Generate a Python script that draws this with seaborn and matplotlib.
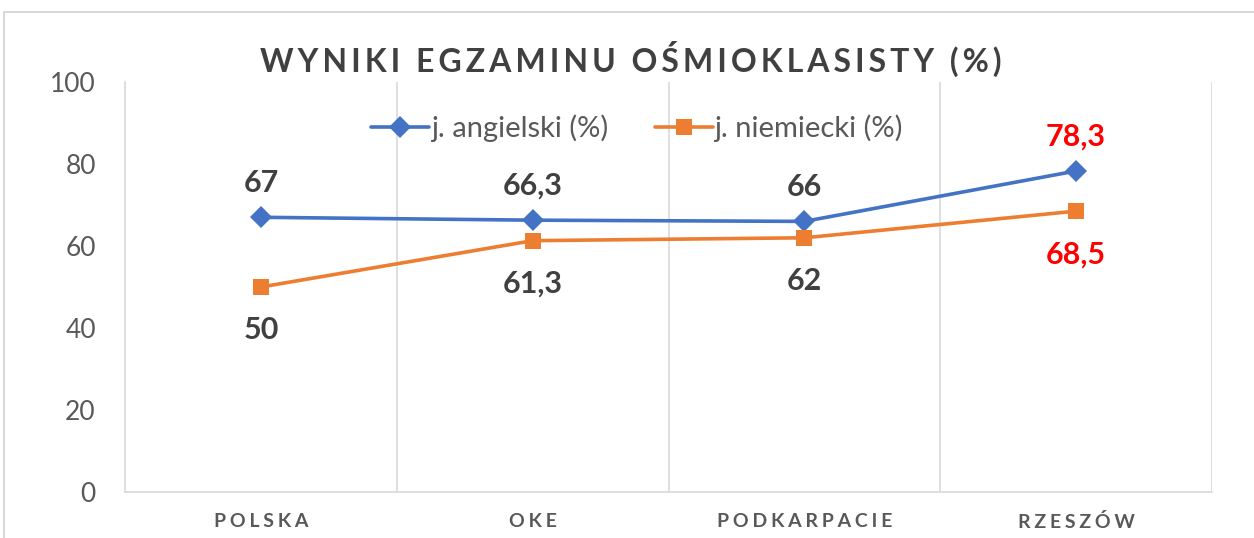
import matplotlib
matplotlib.use("Agg")
import matplotlib.pyplot as plt
from matplotlib.patches import Rectangle
import seaborn as sns
import pandas as pd

# dane z wykresu
categories = ["POLSKA", "OKE", "PODKARPACIE", "RZESZÓW"]
angielski = [67, 66.3, 66, 78.3]
niemiecki = [50, 61.3, 62, 68.5]
series_names = ["j. angielski (%)", "j. niemiecki (%)"]
y_ticks = [0, 20, 40, 60, 80, 100]

df = pd.DataFrame({
    "kategoria": categories * 2,
    "wynik": angielski + niemiecki,
    "seria": [series_names[0]] * 4 + [series_names[1]] * 4,
})

sns.set_style("white")
plt.rcParams["font.family"] = ["Lato", "DejaVu Sans"]

BLUE = "#4472C4"
ORANGE = "#ED7D31"
GRAY = "#595959"
DARK = "#404040"


def spaced(s, sep="\u2009"):
    return sep.join(list(s))


fig = plt.figure(figsize=(12.54, 5.38), dpi=100)
ax = fig.add_axes([0.0997, 0.0855, 0.8668, 0.7621])

sns.lineplot(data=df, x="kategoria", y="wynik", hue="seria", style="seria",
             palette={series_names[0]: BLUE, series_names[1]: ORANGE},
             markers={series_names[0]: "D", series_names[1]: "s"},
             dashes=False, linewidth=2.6, markersize=11, markeredgewidth=0,
             sort=False, ax=ax)

ax.set_xlim(-0.5, 3.5)
ax.set_ylim(0, 100)
ax.set_yticks(y_ticks)
ax.set_yticklabels([str(t) for t in y_ticks], fontsize=19, color=GRAY)
ax.set_xticks(range(len(categories)))
ax.set_xticklabels([spaced(c, "\u2009\u200a") for c in categories], fontsize=14,
                   fontweight="bold", color=GRAY)
ax.tick_params(axis="y", length=0, pad=21)
ax.tick_params(axis="x", length=0, pad=15)
ax.set_xlabel("")
ax.set_ylabel("")

# pionowe linie siatki między kategoriami
for xb in [0.5, 1.5, 2.5, 3.5]:
    ax.axvline(xb, color="#D9D9D9", linewidth=1.2, zorder=0)
for side in ["top", "right"]:
    ax.spines[side].set_visible(False)
ax.spines["left"].set_color("#D9D9D9")
ax.spines["bottom"].set_color("#D9D9D9")
ax.spines["left"].set_linewidth(1.2)
ax.spines["bottom"].set_linewidth(1.2)

# etykiety danych
def fmt(v):
    return ("%g" % v).replace(".", ",")

for i, v in enumerate(angielski):
    c = "#FF0000" if i == 3 else DARK
    ax.annotate(fmt(v), (i, v), xytext=(0, 25), textcoords="offset points",
                ha="center", va="center", fontsize=22, fontweight="bold", color=c)
for i, v in enumerate(niemiecki):
    c = "#FF0000" if i == 3 else DARK
    ax.annotate(fmt(v), (i, v), xytext=(0, -31), textcoords="offset points",
                ha="center", va="center", fontsize=22, fontweight="bold", color=c)

leg = ax.legend(loc="center", bbox_to_anchor=(0.471, 0.888), ncol=2,
                frameon=False, fontsize=21, handlelength=2.0,
                handletextpad=0.05, columnspacing=1.6, labelcolor=GRAY)

fig.text(0.503, 0.89, spaced("WYNIKI EGZAMINU OŚMIOKLASISTY (%)", "\u200a\u200a"),
         ha="center", va="center", fontsize=23, fontweight="bold", color=DARK)

# ramka wykresu
fig.add_artist(Rectangle((4 / 1254, -0.1), 1.2, (538 - 12) / 538 + 0.1,
                         transform=fig.transFigure, fill=False,
                         edgecolor="#D9D9D9", linewidth=1.5, clip_on=False))

fig.savefig("out.png", dpi=100)
